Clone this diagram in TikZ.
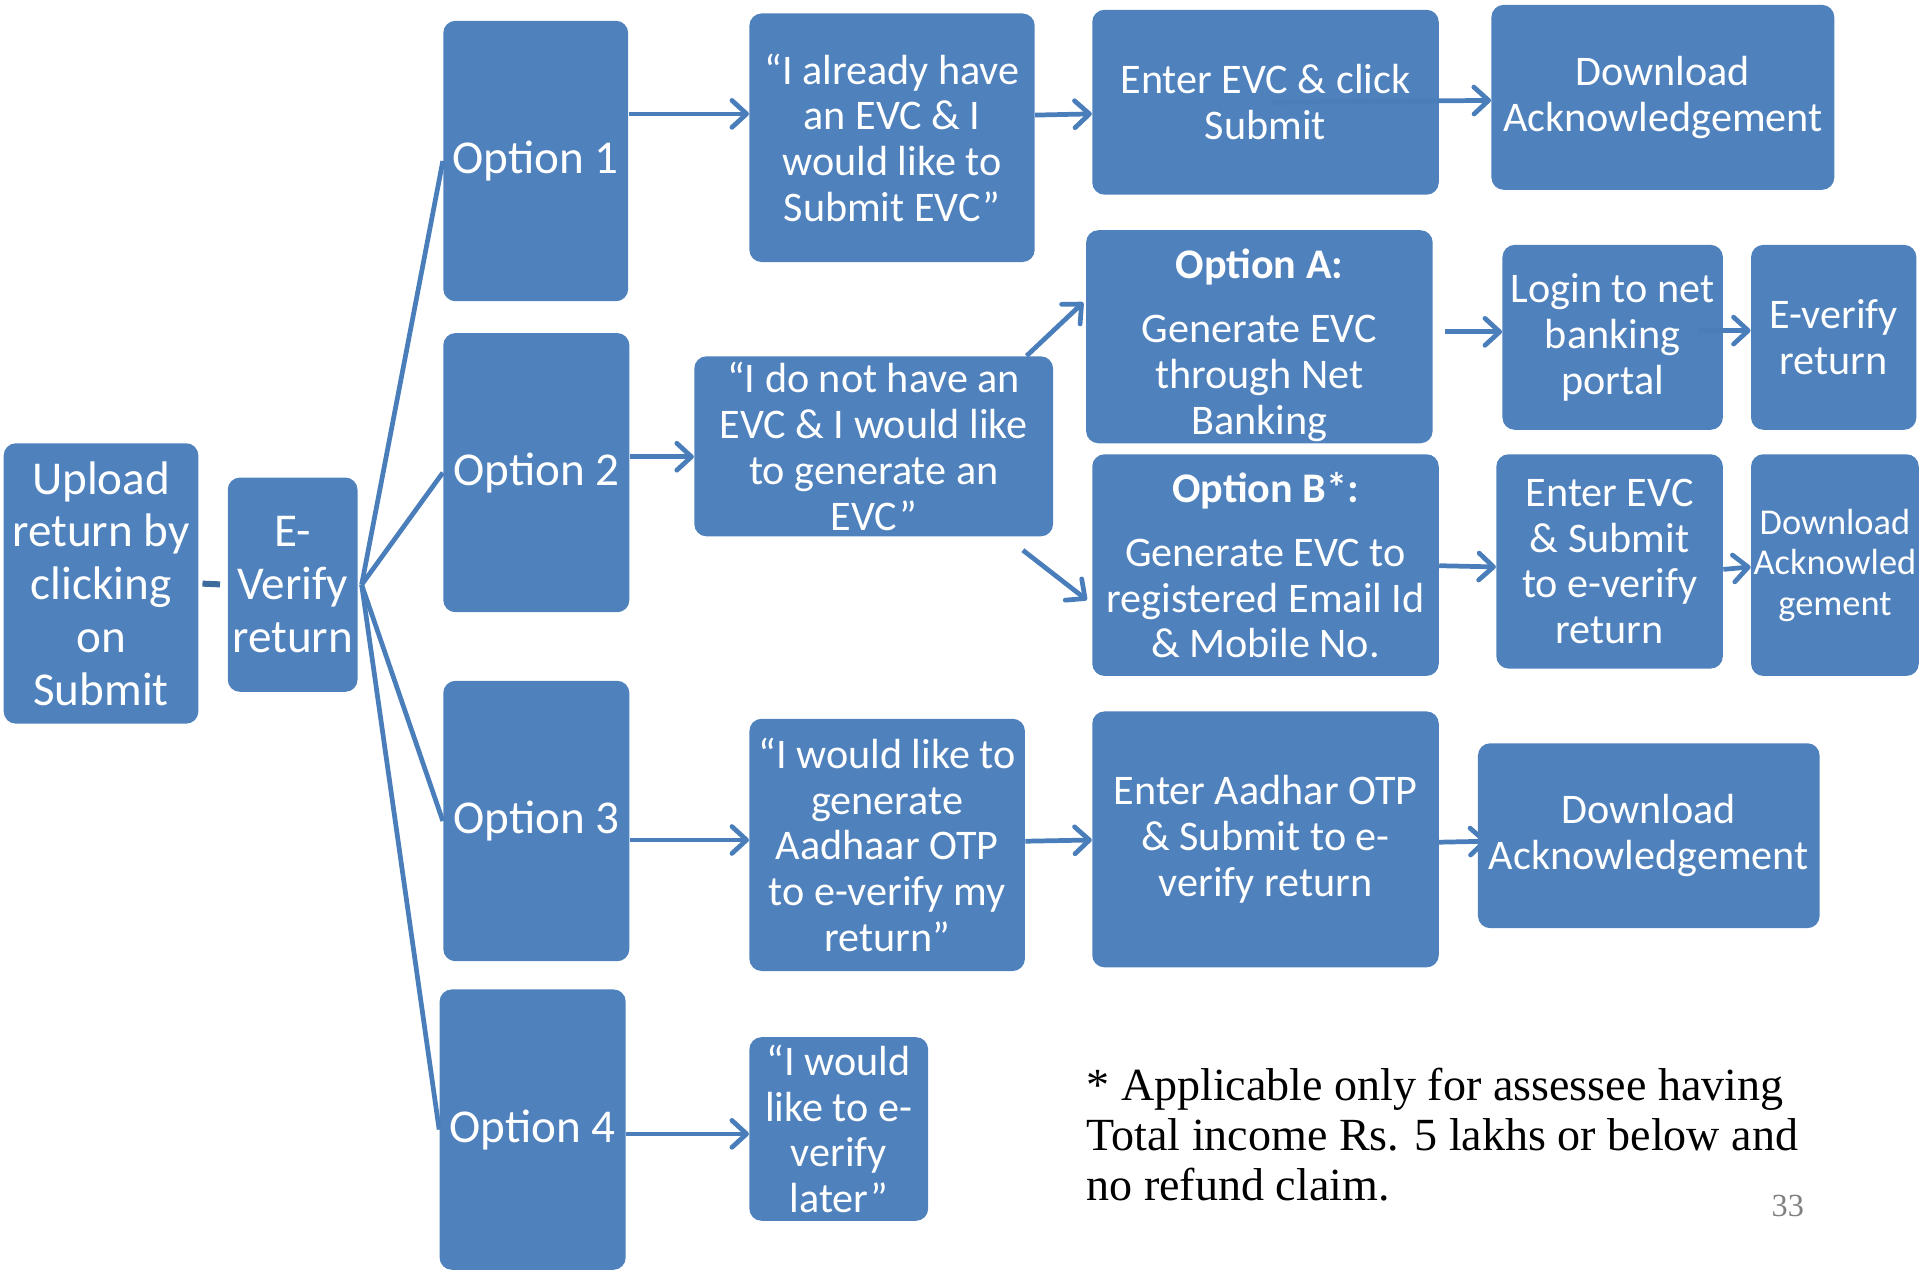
\documentclass[tikz,border=0pt]{standalone}
\usepackage{fontspec}
\setmainfont{Carlito}
\newfontfamily\footfont{Liberation Serif}
\usetikzlibrary{calc,arrows.meta,backgrounds}
\definecolor{boxblue}{HTML}{4F81BD}
\definecolor{arrowblue}{HTML}{4A7EBB}
\definecolor{dashblue}{HTML}{3E6A9E}
\begin{document}
\begin{tikzpicture}[x=0.02cm,y=-0.02cm,
  box/.style={fill=boxblue, draw=none, rounded corners=0.2cm, inner sep=0pt, text=white, align=center, font=\fontsize{19.6}{21.3}\selectfont},
  bigbox/.style={box, font=\fontsize{21.9}{24.5}\selectfont},
  smallbox/.style={box, font=\fontsize{16.9}{18.8}\selectfont},
  bx/.style args={#1,#2,#3,#4}{at={({(#1+#3)/2},{(#2+#4)/2})}, minimum width={(#3-#1)*0.02cm}, minimum height={(#4-#2)*0.02cm}},
  conn/.style={draw=arrowblue, line width=2.2pt},
  arr/.style={conn, -{Straight Barb[length=0.24cm,width=0.44cm,round]}},
]
\useasboundingbox (0,0) rectangle (1568,1040);

% column 1 and 2
\node[bigbox, bx={3,362,162,591}] (upload) {Upload\\return by\\clicking\\on\\Submit};
\node[bigbox, bx={186,390,292,565}] (ever) {E-\\Verify\\return};

% options
\node[bigbox, bx={362,17,513,246}] (o1) {Option 1};
\node[bigbox, bx={362,272,514,500}] (o2) {Option 2};
\node[bigbox, bx={362,556,514,785}] (o3) {Option 3};
\node[bigbox, bx={359,808,511,1037}] (o4) {Option 4};

% quotes
\node[box, bx={612,11,845,214}] (q1) {“I already have\\an EVC \& I\\would like to\\Submit EVC”};
\node[box, bx={567,291,860,438}] (q2) {“I do not have an\\EVC \& I would like\\to generate an\\EVC”};
\node[box, bx={612,587,837,793}] (q3) {“I would like to\\generate\\Aadhaar OTP\\to e-verify my\\return”};
\node[box, bx={612,847,758,997}] (q4) {“I would\\like to e-\\verify\\later”};

% row 1
\node[box, bx={892,8,1175,159}] (e1) {Enter EVC \& click\\Submit};
\node[box, bx={1218,4,1498,155}] (d1) {Download\\Acknowledgement};

% option A / B rows
\node[box, bx={887,188,1170,362}] (oa) {\rule{0pt}{0.76cm}\textbf{Option A:}\\[0.3cm]Generate EVC\\through Net\\Banking};
\node[box, bx={1227,200,1407,351}] (login) {Login to net\\banking\\portal};
\node[box, bx={1430,200,1565,351}] (ev2) {E-verify\\return};
\node[box, bx={892,371,1175,552}] (ob) {\textbf{Option B*:}\\[0.3cm]Generate EVC to\\registered Email Id\\\& Mobile No.};
\node[box, bx={1222,371,1407,546}] (e2) {Enter EVC\\\& Submit\\to e-verify\\return};
\node[smallbox, bx={1430,371,1567,552}] (d2) {Download\\Acknowled\\gement};

% option 3 row
\node[box, bx={892,581,1175,790}] (aad) {Enter Aadhar OTP\\\& Submit to e-\\verify return};
\node[box, bx={1207,607,1486,758}] (d3) {Download\\Acknowledgement};

% footnote
\node[anchor=north west, inner sep=0pt, align=left, font=\footfont\fontsize{21.4}{23.3}\selectfont] (note) at (887,872) {* Applicable only for assessee having\\Total income Rs. 5 lakhs or below and\\no refund claim.};
\node[font=\footfont\fontsize{15}{18}\selectfont, text=gray, inner sep=0pt] (pg) at (1460,985) {33};

% connectors
\draw[conn, draw=dashblue, line width=2.8pt, shorten <=0.06cm, shorten >=0.12cm] (upload.east) -- (ever.west);
\foreach \o in {o1,o2,o3,o4}{
  \draw[conn] ($(ever.east)+(3,0)$) -- (\o.west);
}
\draw[arr] (o1.east |- 0,93) -- (q1.west |- 0,93);
\draw[arr] (q1.east |- 0,94) -- (e1.west |- 0,93);
\draw[arr] ($(e1.center)+(6,0)$) -- (d1.west |- 0,82);
\draw[arr] (o2.east |- 0,373) -- (q2.west |- 0,373);
\draw[arr] ($(q2.north east)+(-22,0)$) -- ($(oa.west |- 0,247)+(-2,0)$);
\draw[arr] ($(q2.south east)+(-25,11)$) -- ($(ob.west |- 0,490)+(-4,0)$);
\draw[arr] ($(oa.east |- 0,271)+(10,0)$) -- (login.west |- 0,271);
\draw[arr] ($(login.east |- 0,270)+(-20,0)$) -- (ev2.west |- 0,270);
\draw[arr] (ob.east |- 0,462) -- (e2.west |- 0,463);
\draw[arr] (e2.east |- 0,465) -- (d2.west |- 0,463);
\draw[arr] (o3.east |- 0,686) -- (q3.west |- 0,686);
\draw[arr] (q3.east |- 0,687) -- (aad.west |- 0,686);
\draw[arr] (o4.east |- 0,926) -- (q4.west |- 0,926);
\begin{scope}[on background layer]
  \draw[arr] ($(aad.east |- 0,688)+(-10,0)$) -- ($(d3.west |- 0,687)+(8,0)$);
\end{scope}
\end{tikzpicture}
\end{document}
